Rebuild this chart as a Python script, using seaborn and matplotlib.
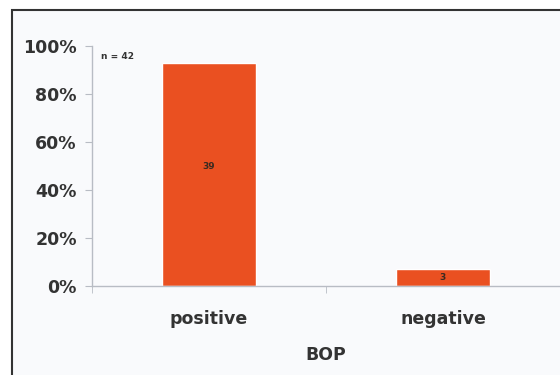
import matplotlib
matplotlib.use("Agg")
import matplotlib.pyplot as plt
import seaborn as sns
import pandas as pd
from matplotlib.patches import Rectangle
from matplotlib.ticker import FuncFormatter, FixedLocator

categories = ["positive", "negative"]
counts = [39, 3]
total = 42
y_ticks = [0, 0.2, 0.4, 0.6, 0.8, 1.0]

sns.set_style("white")
plt.rcParams["font.family"] = ["DejaVu Sans"]

df = pd.DataFrame({"BOP": categories, "count": counts})
df["share"] = df["count"] / total

bg = "#f9fafc"
fig = plt.figure(figsize=(5.6, 3.75), dpi=100, facecolor="white")
# page frame behind the chart
fig.patches.append(Rectangle((12 / 560, -0.1), 1.2, 1 - 10 / 375 + 0.1,
                             transform=fig.transFigure, facecolor=bg,
                             edgecolor="#333333", linewidth=1.5, zorder=-10))

ax = fig.add_axes([92 / 560, 1 - 286 / 375, 1 - 92 / 560, 240 / 375])
ax.set_facecolor("none")

sns.barplot(data=df, x="BOP", y="share", color="#ea5021", saturation=1,
            width=0.4, ax=ax)

ax.set_ylim(0, 1)
ax.set_xlim(-0.5, 1.5)
ax.set_yticks(y_ticks)
ax.yaxis.set_major_formatter(FuncFormatter(lambda v, p: f"{v * 100:.0f}%"))
ax.xaxis.set_major_locator(FixedLocator([0, 1]))
ax.xaxis.set_minor_locator(FixedLocator([-0.5, 0.5]))

for s in ["top", "right"]:
    ax.spines[s].set_visible(False)
for s in ["left", "bottom"]:
    ax.spines[s].set_color("#b8bcc4")
    ax.spines[s].set_linewidth(1)

ax.tick_params(axis="y", which="major", left=True, length=5, color="#b8bcc4",
               labelsize=12.5, labelcolor="#333333", pad=6)
ax.tick_params(axis="x", which="major", bottom=True, length=0, labelsize=12.5,
               labelcolor="#333333", pad=17)
ax.tick_params(axis="x", which="minor", bottom=True, length=5,
               color="#b8bcc4")
for lab in ax.get_yticklabels() + ax.get_xticklabels():
    lab.set_fontweight("bold")

ax.set_ylabel("")
ax.set_xlabel("BOP", fontsize=12.5, fontweight="bold", color="#333333",
              labelpad=13)

for i, (c, s) in enumerate(zip(df["count"], df["share"])):
    ypos = s / 2 + 0.035 if s > 0.5 else s / 2
    ax.text(i, ypos, str(c), ha="center", va="center", fontsize=6.5,
            fontweight="bold", color="#3a2a20")

ax.text(0.02, 0.955, f"n = {total}", transform=ax.transAxes, fontsize=6.5,
        fontweight="bold", color="#333333", ha="left", va="center")

fig.savefig("out.png", dpi=100, facecolor="white")
